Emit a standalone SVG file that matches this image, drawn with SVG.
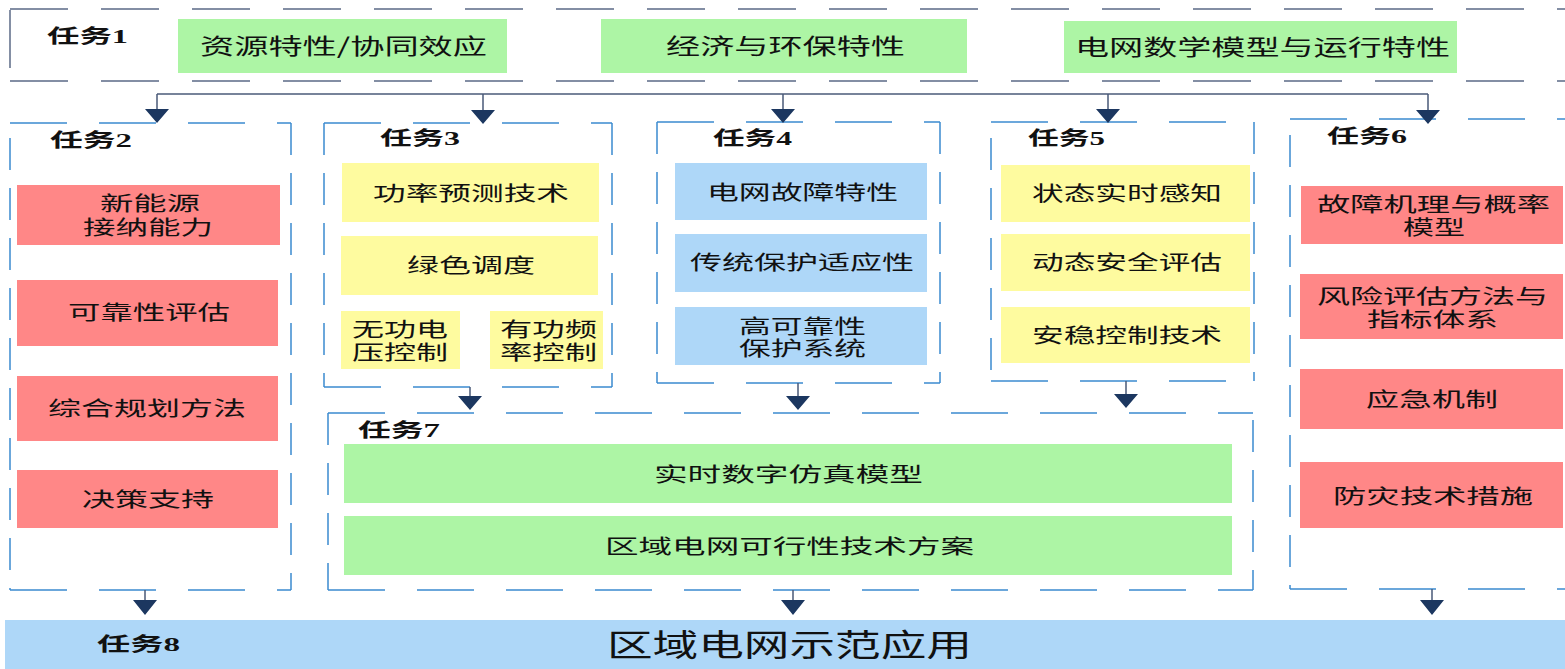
<svg xmlns="http://www.w3.org/2000/svg" width="1565" height="669" viewBox="0 0 1565 669">
<style>
.t{font-family:"Noto Sans CJK SC","Noto Sans",sans-serif;font-size:20px;fill:#111}
.tl{font-family:"Noto Sans CJK SC","Noto Sans",sans-serif;font-size:22px;fill:#111}
.lb{font-family:"Liberation Serif","Noto Sans CJK SC",serif;font-size:19px;font-weight:bold;fill:#111}
.big{font-family:"Noto Sans CJK SC","Noto Sans",sans-serif;font-size:31px;fill:#111}
.g{fill:#adf5a5}.r{fill:#ff8787}.y{fill:#fefb9f}.b{fill:#aed7f8}
.fh{stroke:#3b8bd0;stroke-width:1.5;fill:none;stroke-dasharray:57 32}
.fv{stroke:#3b8bd0;stroke-width:1.5;fill:none;stroke-dasharray:32 18}
.gh{stroke:#5b6a86;stroke-width:1.5;fill:none;stroke-dasharray:58 33}
.ln{stroke:#4a5a78;stroke-width:1.5;fill:none}
.ah{fill:#1c3760}
</style>
<rect x="5" y="620" width="1560" height="49" class="b"/>
<g id="task1">
<line x1="10" y1="9" x2="1565" y2="9" class="gh"/>
<line x1="10" y1="81" x2="1565" y2="81" class="gh"/>
<line x1="10" y1="10" x2="10" y2="68" class="gh" stroke-dasharray="none"/>
<text x="47" y="43" class="lb" textLength="81" lengthAdjust="spacingAndGlyphs">任务1</text>
<rect x="178" y="19" width="329" height="54" class="g"/>
<text x="200" y="54" class="tl" textLength="287" lengthAdjust="spacingAndGlyphs">资源特性/协同效应</text>
<rect x="601" y="19" width="366" height="54" class="g"/>
<text x="666" y="54" class="tl" textLength="239" lengthAdjust="spacingAndGlyphs">经济与环保特性</text>
<rect x="1064" y="21" width="393" height="52" class="g"/>
<text x="1075" y="55" class="tl" textLength="375" lengthAdjust="spacingAndGlyphs">电网数学模型与运行特性</text>
</g>
<g id="task2">
<line x1="10" y1="123" x2="291" y2="123" class="fh"/>
<line x1="10" y1="590" x2="291" y2="590" class="fh"/>
<line x1="10" y1="138" x2="10" y2="590" class="fv"/>
<line x1="291" y1="123" x2="291" y2="590" class="fv"/>
<text x="50" y="147" class="lb" textLength="82" lengthAdjust="spacingAndGlyphs">任务2</text>
<rect x="17" y="185" width="263" height="60" class="r"/>
<text class="t"><tspan x="100" y="211" textLength="100" lengthAdjust="spacingAndGlyphs">新能源</tspan><tspan x="83" y="235" textLength="130" lengthAdjust="spacingAndGlyphs">接纳能力</tspan></text>
<rect x="17" y="280" width="261" height="66" class="r"/>
<text x="68" y="320" class="t" textLength="162" lengthAdjust="spacingAndGlyphs">可靠性评估</text>
<rect x="17" y="376" width="261" height="65" class="r"/>
<text x="48" y="416" class="t" textLength="198" lengthAdjust="spacingAndGlyphs">综合规划方法</text>
<rect x="17" y="470" width="261" height="58" class="r"/>
<text x="82" y="507" class="t" textLength="132" lengthAdjust="spacingAndGlyphs">决策支持</text>
</g>
<g id="task3">
<line x1="324" y1="123" x2="612" y2="123" class="fh"/>
<line x1="324" y1="387" x2="612" y2="387" class="fh"/>
<line x1="324" y1="123" x2="324" y2="387" class="fv"/>
<line x1="612" y1="123" x2="612" y2="387" class="fv"/>
<text x="380" y="145" class="lb" textLength="80" lengthAdjust="spacingAndGlyphs">任务3</text>
<rect x="342" y="163" width="257" height="59" class="y"/>
<text x="373" y="201" class="t" textLength="196" lengthAdjust="spacingAndGlyphs">功率预测技术</text>
<rect x="341" y="236" width="257" height="59" class="y"/>
<text x="407" y="273" class="t" textLength="128" lengthAdjust="spacingAndGlyphs">绿色调度</text>
<rect x="341" y="311" width="119" height="58" class="y"/>
<text class="t"><tspan x="352" y="337" textLength="96" lengthAdjust="spacingAndGlyphs">无功电</tspan><tspan x="352" y="360" textLength="96" lengthAdjust="spacingAndGlyphs">压控制</tspan></text>
<rect x="490" y="311" width="113" height="58" class="y"/>
<text class="t"><tspan x="500" y="337" textLength="97" lengthAdjust="spacingAndGlyphs">有功频</tspan><tspan x="500" y="360" textLength="97" lengthAdjust="spacingAndGlyphs">率控制</tspan></text>
</g>
<g id="task4">
<line x1="657" y1="122" x2="940" y2="122" class="fh"/>
<line x1="657" y1="383" x2="940" y2="383" class="fh"/>
<line x1="657" y1="122" x2="657" y2="383" class="fv"/>
<line x1="940" y1="122" x2="940" y2="383" class="fv"/>
<text x="713" y="145" class="lb" textLength="79" lengthAdjust="spacingAndGlyphs">任务4</text>
<rect x="675" y="163" width="252" height="57" class="b"/>
<text x="707" y="200" class="t" textLength="191" lengthAdjust="spacingAndGlyphs">电网故障特性</text>
<rect x="675" y="234" width="252" height="58" class="b"/>
<text x="690" y="270" class="t" textLength="224" lengthAdjust="spacingAndGlyphs">传统保护适应性</text>
<rect x="675" y="307" width="252" height="58" class="b"/>
<text class="t"><tspan x="739" y="334" textLength="127" lengthAdjust="spacingAndGlyphs">高可靠性</tspan><tspan x="739" y="356" textLength="127" lengthAdjust="spacingAndGlyphs">保护系统</tspan></text>
</g>
<g id="task5">
<line x1="991" y1="122" x2="1254" y2="122" class="fh"/>
<line x1="991" y1="381" x2="1254" y2="381" class="fh"/>
<line x1="991" y1="138" x2="991" y2="381" class="fv"/>
<line x1="1254" y1="122" x2="1254" y2="381" class="fv"/>
<text x="1028" y="145" class="lb" textLength="77" lengthAdjust="spacingAndGlyphs">任务5</text>
<rect x="1001" y="165" width="249" height="57" class="y"/>
<text x="1032" y="201" class="t" textLength="190" lengthAdjust="spacingAndGlyphs">状态实时感知</text>
<rect x="1001" y="234" width="249" height="57" class="y"/>
<text x="1032" y="270" class="t" textLength="190" lengthAdjust="spacingAndGlyphs">动态安全评估</text>
<rect x="1001" y="307" width="249" height="56" class="y"/>
<text x="1032" y="343" class="t" textLength="190" lengthAdjust="spacingAndGlyphs">安稳控制技术</text>
</g>
<g id="task6">
<line x1="1290" y1="119" x2="1565" y2="119" class="fh"/>
<line x1="1290" y1="589" x2="1565" y2="589" class="fh"/>
<line x1="1290" y1="135" x2="1290" y2="589" class="fv"/>
<text x="1327" y="143" class="lb" textLength="80" lengthAdjust="spacingAndGlyphs">任务6</text>
<rect x="1301" y="186" width="262" height="58" class="r"/>
<text class="t"><tspan x="1317" y="212" textLength="233" lengthAdjust="spacingAndGlyphs">故障机理与概率</tspan><tspan x="1403" y="235" textLength="62" lengthAdjust="spacingAndGlyphs">模型</tspan></text>
<rect x="1300" y="274" width="263" height="65" class="r"/>
<text class="t"><tspan x="1317" y="304" textLength="231" lengthAdjust="spacingAndGlyphs">风险评估方法与</tspan><tspan x="1367" y="327" textLength="131" lengthAdjust="spacingAndGlyphs">指标体系</tspan></text>
<rect x="1300" y="369" width="263" height="60" class="r"/>
<text x="1366" y="407" class="t" textLength="132" lengthAdjust="spacingAndGlyphs">应急机制</text>
<rect x="1300" y="462" width="263" height="66" class="r"/>
<text x="1333" y="504" class="t" textLength="200" lengthAdjust="spacingAndGlyphs">防灾技术措施</text>
</g>
<g id="task7">
<line x1="328" y1="413" x2="1253" y2="413" class="fh"/>
<line x1="328" y1="590" x2="1253" y2="590" class="fh"/>
<line x1="328" y1="413" x2="328" y2="590" class="fv"/>
<line x1="1253" y1="420" x2="1253" y2="590" class="fv"/>
<text x="358" y="437" class="lb" textLength="82" lengthAdjust="spacingAndGlyphs">任务7</text>
<rect x="344" y="444" width="888" height="59" class="g"/>
<text x="654" y="482" class="t" textLength="269" lengthAdjust="spacingAndGlyphs">实时数字仿真模型</text>
<rect x="344" y="516" width="888" height="59" class="g"/>
<text x="605" y="554" class="t" textLength="369" lengthAdjust="spacingAndGlyphs">区域电网可行性技术方案</text>
</g>
<g id="task8">
<text x="97" y="651" class="lb" textLength="83" lengthAdjust="spacingAndGlyphs">任务8</text>
<text x="607" y="656" class="big" textLength="365" lengthAdjust="spacingAndGlyphs">区域电网示范应用</text>
</g>
<g id="connectors">
<path d="M157 94H1428" class="ln"/>
<path d="M157 94V110M483 94V110M783 94V110M1108 94V110M1428 94V110" class="ln"/>
<path d="M145 590V601M793 590V601M1432 589V601" class="ln"/>
<path d="M470 387V397M798 383V397M1126 381V395" class="ln"/>
<path class="ah" d="M145 109h24l-12 14zM471 110h24l-12 14zM771 109h24l-12 14zM1096 109h24l-12 14zM1416 110h24l-12 14z"/>
<path class="ah" d="M458 396h24l-12 14zM786 396h24l-12 14zM1114 394h24l-12 14z"/>
<path class="ah" d="M133 600h24l-12 15zM781 600h24l-12 15zM1420 600h24l-12 15z"/>
</g>
</svg>
